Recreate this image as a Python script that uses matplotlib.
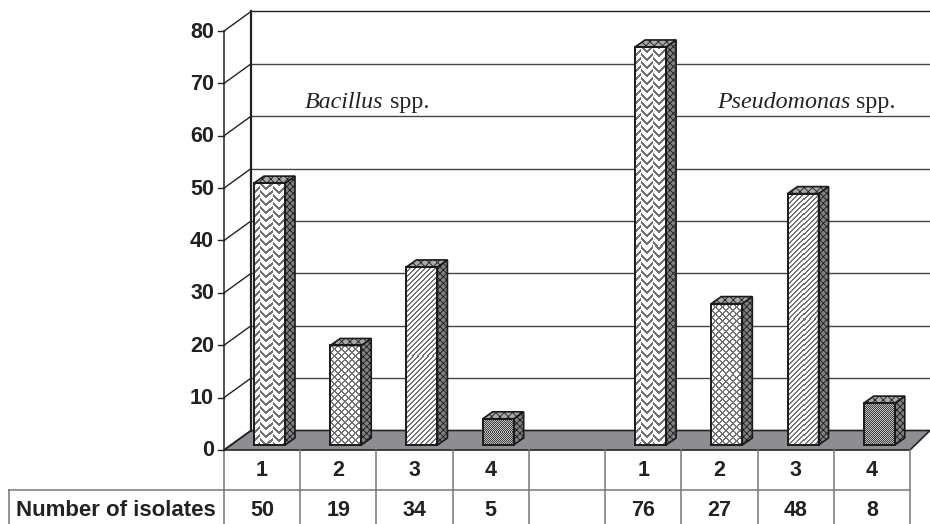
import numpy as np
import matplotlib
matplotlib.use("Agg")
import matplotlib.pyplot as plt
from matplotlib.patches import Polygon

# values
groups = ["Bacillus", "Pseudomonas"]
strain_labels = ["1", "2", "3", "4", "", "1", "2", "3", "4"]
isolates = [50, 19, 34, 5, None, 76, 27, 48, 8]
y_ticks = [0, 10, 20, 30, 40, 50, 60, 70, 80]

W, H = 930, 524
LEFT, RIGHT, BOTTOM, TOP = 224, 910, 450, 31
plt.rcParams["font.family"] = ["Liberation Sans", "DejaVu Sans"]
plt.rcParams["hatch.linewidth"] = 0.6

fig = plt.figure(figsize=(W / 100, H / 100), dpi=100)
ax = fig.add_axes([LEFT / W, 1 - BOTTOM / H, (RIGHT - LEFT) / W, (BOTTOM - TOP) / H])
ax.axis("off")

px = len(isolates) / (RIGHT - LEFT)  # one pixel in x data units
py = 80 / (BOTTOM - TOP)             # one pixel in y data units
wall_dx, wall_dy = 27 * px, 19.5 * py
bar_w = 31 * px
depth_dx, depth_dy = 10 * px, 7 * py
shift_x, shift_y = 30 * px, 5 * py  # bars stand a bit behind the front edge
ink = "#222222"


def texture(kind, w, h):
    yy, xx = np.mgrid[0:h, 0:w]
    if kind == 0:  # herringbone
        col = xx // 6
        v = np.where(col % 2 == 0, (xx + yy) % 8, (xx - yy + 3) % 8)
        dark = v < 3
    elif kind == 1:  # diamonds
        dark = ((xx + yy) % 7 < 2) | ((xx - yy) % 7 < 2)
    elif kind == 2:  # diagonal stripes
        dark = (xx + yy) % 5 < 2
    else:  # fine check
        dark = (xx + yy) % 2 == 0
    low = 0.45 if kind < 3 else 0.25
    high = 1.0 if kind < 3 else 0.75
    return np.where(dark, low, high)


# floor
ax.add_patch(Polygon([(0, 0), (wall_dx, wall_dy), (len(isolates) + 20 * px, wall_dy),
                      (len(isolates), 0)], closed=True, fc="#8e8e92", ec=ink,
                     lw=1.2, clip_on=False, zorder=1))

# gridlines on back wall and the diagonal connectors
for v in y_ticks:
    if v > 0:
        c = ink if v == 80 else "#444444"
        ax.plot([wall_dx, len(isolates) + 20 * px], [v + wall_dy, v + wall_dy], color=c,
                lw=1.0, clip_on=False, zorder=0.5)
    ax.plot([0, wall_dx], [v, v + wall_dy], color=ink, lw=1.0, clip_on=False, zorder=2)
    ax.plot([-6 * px, 0], [v, v], color=ink, lw=1.0, clip_on=False, zorder=2)
    ax.text(-10 * px, v - 1 * py, str(v), ha="right", va="center", fontsize=15.5, fontweight="bold",
            color=ink)
ax.plot([0, 0], [0, 80], color=ink, lw=1.1, clip_on=False, zorder=2)
ax.plot([wall_dx, wall_dx], [wall_dy, 80 + wall_dy], color=ink, lw=1.6, clip_on=False, zorder=2)

# bars
for i, val in enumerate(isolates):
    if val is None:
        continue
    x0 = i + shift_x
    x1 = x0 + bar_w
    y0 = shift_y
    y1 = val + shift_y
    kind = int(strain_labels[i]) - 1
    tex = texture(kind, 31, max(int(round(val / py)), 1))
    ax.imshow(tex, cmap="gray", vmin=0, vmax=1, extent=[x0, x1, y0, y1], aspect="auto",
              interpolation="nearest", zorder=4)
    ax.add_patch(Polygon([(x0, y0), (x1, y0), (x1, y1), (x0, y1)], closed=True, fill=False,
                         ec="#1a1a1a", lw=1.4, zorder=5))
    ax.add_patch(Polygon([(x1, y0), (x1 + depth_dx, y0 + depth_dy), (x1 + depth_dx, y1 + depth_dy),
                          (x1, y1)], closed=True, fc="#808080", ec="#1a1a1a", hatch="xxxxx",
                         lw=1.2, zorder=4))
    ax.add_patch(Polygon([(x0, y1), (x1, y1), (x1 + depth_dx, y1 + depth_dy), (x0 + depth_dx, y1 + depth_dy)],
                         closed=True, fc="#a8a8a8", ec="#1a1a1a", hatch="xxxx", lw=1.2, zorder=4))

# group captions
for name, pos in zip(groups, [81 * px, 493 * px]):
    t = ax.text(pos, 65.3, name, style="italic", family="Liberation Serif", fontsize=17.3,
                va="baseline", color=ink)
    ax.annotate(" spp.", xy=(1, 0), xycoords=t, va="bottom", family="Liberation Serif",
                fontsize=17.3, color=ink)

# data table below the floor
row1 = -40 * py
row2 = -74 * py
row2_mid = -60 * py
line = "#777777"
for i in range(len(isolates) + 1):
    ax.plot([i, i], [0, row2], color=line, lw=1.1, clip_on=False, zorder=1)
ax.plot([-215 * px, len(isolates)], [row1, row1], color=line, lw=1.1, clip_on=False)
ax.plot([-215 * px, -215 * px], [row1, row2], color=line, lw=1.1, clip_on=False)
ax.text(-208 * px, row2_mid, "Number of isolates", ha="left", va="center",
        fontsize=16, fontweight="bold", color=ink)
for i, (lab, val) in enumerate(zip(strain_labels, isolates)):
    ax.text(i + 0.5, row1 / 2, lab, ha="center", va="center", fontsize=15.5, fontweight="bold",
            color=ink)
    if val is not None:
        ax.text(i + 0.5, row2_mid, str(val), ha="center", va="center",
                fontsize=15.5, fontweight="bold", color=ink)

ax.set_xlim(0, len(isolates))
ax.set_ylim(0, 80)
fig.savefig("out.png", dpi=100)
